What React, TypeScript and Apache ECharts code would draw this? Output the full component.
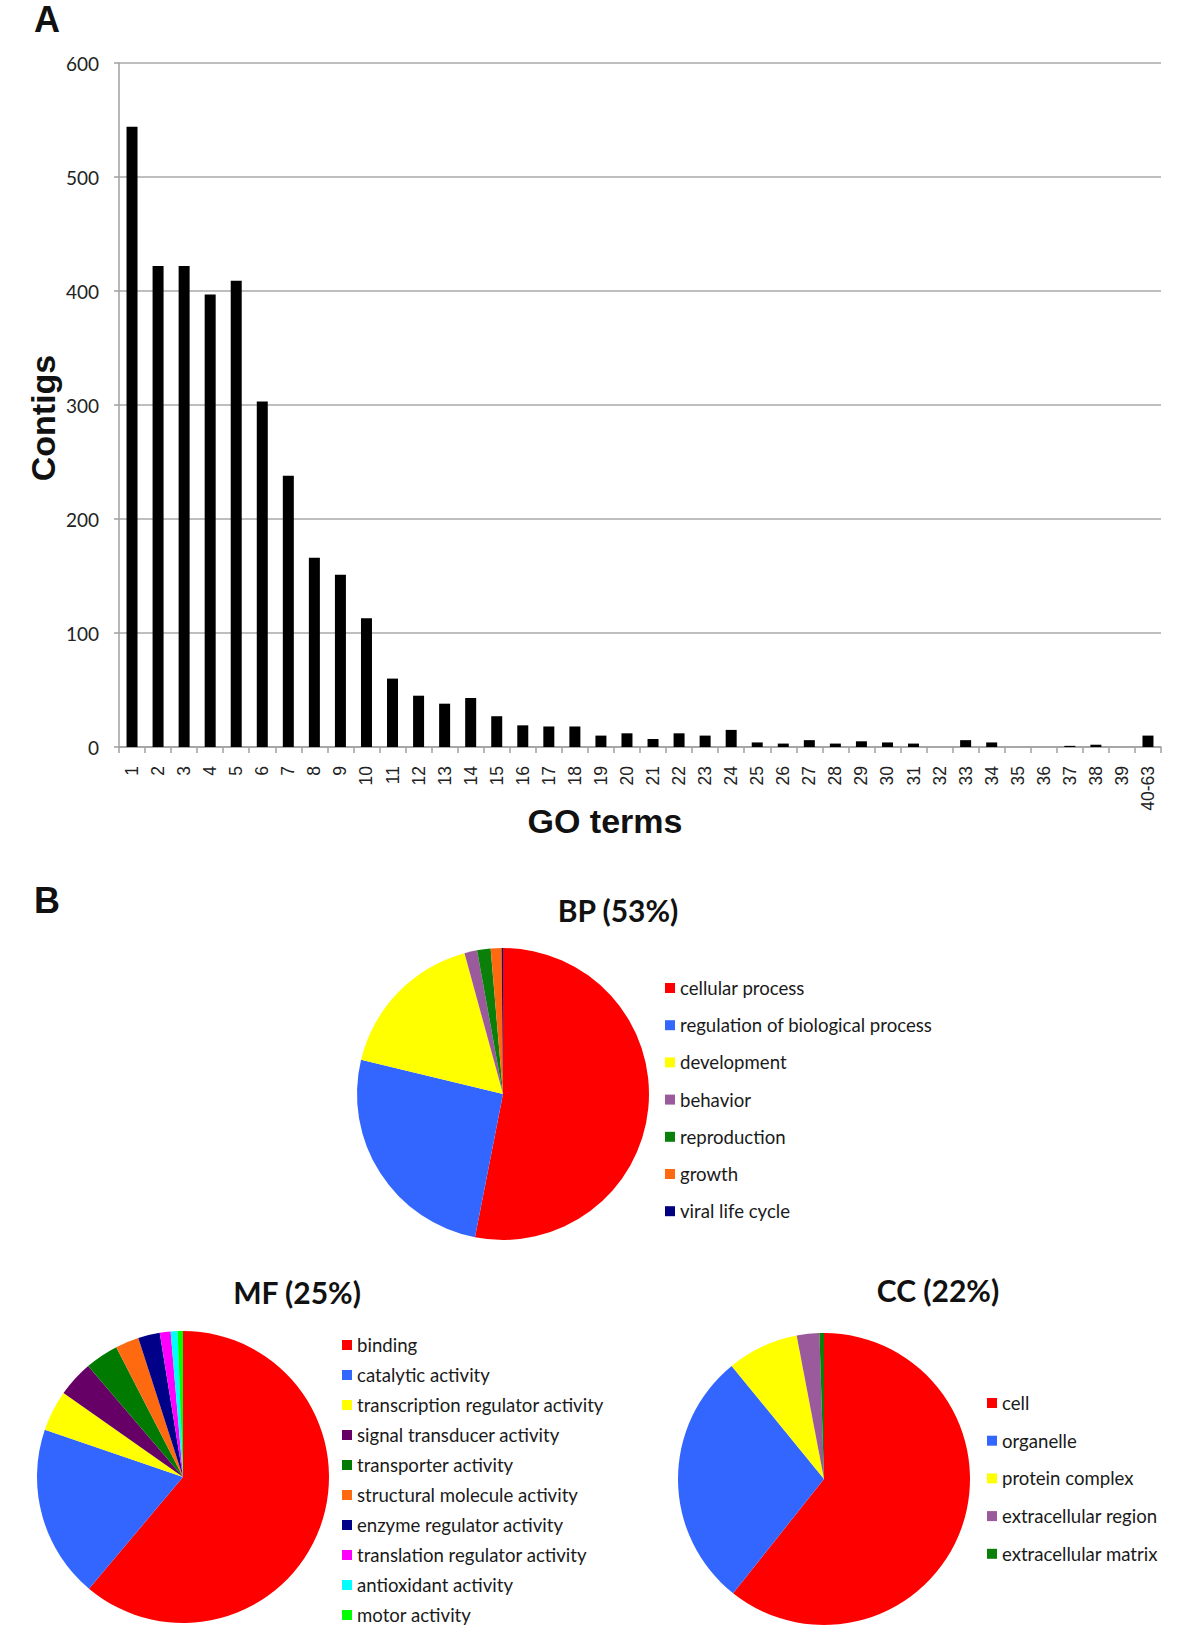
import React, { useEffect, useRef } from "react";
import * as echarts from "echarts";

const goTermCategories = [
  "1","2","3","4","5","6","7","8","9","10",
  "11","12","13","14","15","16","17","18","19","20",
  "21","22","23","24","25","26","27","28","29","30",
  "31","32","33","34","35","36","37","38","39","40-63",
];
const contigCounts = [
  544, 422, 422, 397, 409, 303, 238, 166, 151, 113,
  60, 45, 38, 43, 27, 19, 18, 18, 10, 12,
  7, 12, 10, 15, 4, 3, 6, 3, 5, 4,
  3, 0, 6, 4, 0, 0, 1, 2, 0, 10,
];
const yTicks = [0, 100, 200, 300, 400, 500, 600];

const bpNames = [
  "cellular process",
  "regulation of biological process",
  "development",
  "behavior",
  "reproduction",
  "growth",
  "viral life cycle",
];
const bpValues = [53.1, 25.7, 17.0, 1.4, 1.5, 1.2, 0.15];
const bpColors = ["#ff0000", "#3366ff", "#ffff00", "#9b5a9b", "#0a800a", "#ff6a10", "#000080"];

const mfNames = [
  "binding",
  "catalytic activity",
  "transcription regulator activity",
  "signal transducer activity",
  "transporter activity",
  "structural molecule activity",
  "enzyme regulator activity",
  "translation regulator activity",
  "antioxidant activity",
  "motor activity",
];
const mfValues = [61.1, 19.1, 4.5, 4.0, 3.7, 2.6, 2.4, 1.2, 0.75, 0.6];
const mfColors = ["#ff0000", "#3366ff", "#ffff00", "#660066", "#007a00", "#ff6a10", "#000088", "#ff00ff", "#00ffff", "#00ff00"];

const ccNames = ["cell", "organelle", "protein complex", "extracellular region", "extracellular matrix"];
const ccValues = [60.7, 28.4, 7.9, 2.5, 0.5];
const ccColors = ["#ff0000", "#3366ff", "#ffff00", "#9b5a9b", "#0a800a"];

const LEGEND_FONT = "Lato, 'Open Sans', sans-serif";

function pieData(names: string[], values: number[], colors: string[]) {
  return names.map((n, i) => ({ name: n, value: values[i], itemStyle: { color: colors[i] } }));
}

export default function App() {
  const ref = useRef<HTMLDivElement>(null);
  useEffect(() => {
    if (!ref.current) return;
    const chart = echarts.init(ref.current, undefined, { renderer: "svg" });
    const pieCommon = {
      type: "pie",
      radius: 146,
      startAngle: 90,
      clockwise: true,
      label: { show: false },
      labelLine: { show: false },
      emphasis: { disabled: true },
      itemStyle: { borderWidth: 0 },
      silent: true,
    };
    const legendCommon = {
      orient: "vertical",
      icon: "rect",
      itemWidth: 10,
      itemHeight: 10,
      padding: 0,
      selectedMode: false,
      textStyle: { fontFamily: LEGEND_FONT, fontSize: 18.6, color: "#1a1a1a", lineHeight: 20 },
    };
    const titleStyle = {
      fontFamily: LEGEND_FONT,
      fontWeight: "bold",
      fontSize: 30,
      fill: "#111",
      textAlign: "center",
      textVerticalAlign: "middle",
    };
    chart.setOption({
      animation: false,
      backgroundColor: "#ffffff",
      grid: { left: 119, right: 39, top: 63, bottom: 901, containLabel: false },
      xAxis: {
        type: "category",
        data: goTermCategories,
        axisLine: { show: true, lineStyle: { color: "#a0a0a0", width: 1.5 } },
        axisTick: { show: true, length: 6, lineStyle: { color: "#a0a0a0", width: 1.5 } },
        axisLabel: {
          rotate: 90,
          interval: 0,
          margin: 19,
          fontFamily: "'Liberation Sans', Arial, sans-serif",
          fontSize: 17.5,
          color: "#222",
        },
      },
      yAxis: {
        type: "value",
        min: yTicks[0],
        max: yTicks[yTicks.length - 1],
        interval: 100,
        axisLine: { show: true, lineStyle: { color: "#a0a0a0", width: 1.5 } },
        axisTick: { show: true, length: 5, lineStyle: { color: "#a0a0a0", width: 1.5 } },
        splitLine: { show: true, lineStyle: { color: "#a8a8a8", width: 1.5 } },
        axisLabel: { margin: 20, fontFamily: LEGEND_FONT, fontSize: 19, color: "#222" },
      },
      legend: [
        { ...legendCommon, data: bpNames, left: 665, top: 978, itemGap: 17.2 },
        { ...legendCommon, data: mfNames, left: 342, top: 1335, itemGap: 10 },
        { ...legendCommon, data: ccNames, left: 987, top: 1393, itemGap: 17.7 },
      ],
      series: [
        {
          type: "bar",
          data: contigCounts,
          barWidth: 11,
          itemStyle: { color: "#000000" },
          silent: true,
        },
        { ...pieCommon, name: "BP", center: [503, 1094], data: pieData(bpNames, bpValues, bpColors) },
        { ...pieCommon, name: "MF", center: [183, 1477], data: pieData(mfNames, mfValues, mfColors) },
        { ...pieCommon, name: "CC", center: [824, 1479], data: pieData(ccNames, ccValues, ccColors) },
      ],
      graphic: [
        {
          type: "text",
          left: 34,
          top: 1,
          style: { text: "A", fontFamily: "'Liberation Sans', Arial", fontWeight: "bold", fontSize: 36, fill: "#111" },
        },
        {
          type: "text",
          left: 34,
          top: 882,
          style: { text: "B", fontFamily: "'Liberation Sans', Arial", fontWeight: "bold", fontSize: 36, fill: "#111" },
        },
        {
          type: "text",
          x: 605,
          y: 821,
          style: {
            text: "GO terms",
            fontFamily: "'Liberation Sans', Arial",
            fontWeight: "bold",
            fontSize: 34,
            fill: "#111",
            textAlign: "center",
            textVerticalAlign: "middle",
          },
        },
        {
          type: "text",
          x: 43,
          y: 418,
          rotation: Math.PI / 2,
          style: {
            text: "Contigs",
            fontFamily: "'Liberation Sans', Arial",
            fontWeight: "bold",
            fontSize: 34,
            fill: "#111",
            textAlign: "center",
            textVerticalAlign: "middle",
          },
        },
        { type: "text", x: 618, y: 910, style: { ...titleStyle, text: "BP (53%)" } },
        { type: "text", x: 297, y: 1292, style: { ...titleStyle, text: "MF (25%)" } },
        { type: "text", x: 938, y: 1290, style: { ...titleStyle, text: "CC (22%)" } },
      ],
    });
    return () => chart.dispose();
  }, []);
  return (
    <div
      ref={ref}
      style={{ position: "absolute", left: 0, top: 0, width: 1200, height: 1648, background: "#fff" }}
    />
  );
}
